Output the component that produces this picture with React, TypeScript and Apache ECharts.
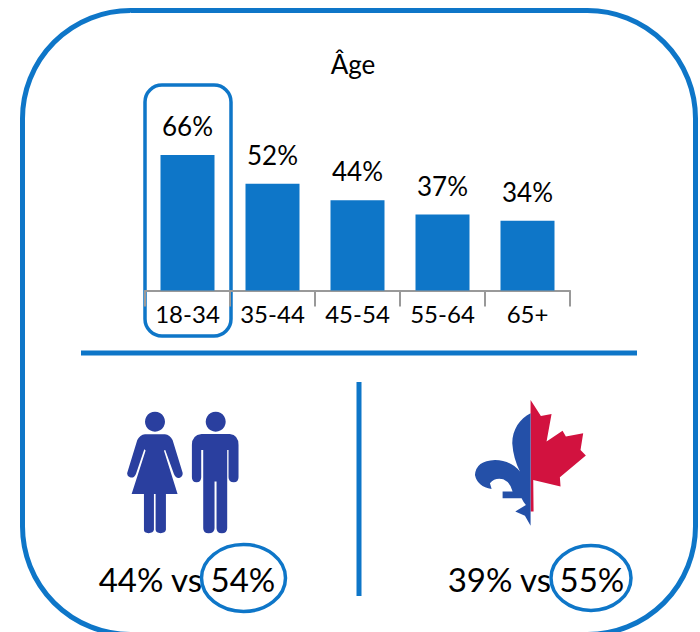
import React, { useEffect, useRef } from "react";
import * as echarts from "echarts";

const ageCategories = ["18-34", "35-44", "45-54", "55-64", "65+"];
const ageValues = [66, 52, 44, 37, 34];
const chartTitle = "Âge";
const genderText = "44% vs 54%";
const regionText = "39% vs 55%";

const BLUE = "#0e76c8";
const FONT = "Lato, 'Open Sans', sans-serif";

const womanPath = "M165 133 L225 133 Q240 135 248 150 L277 245 Q282 258 268 264 Q258 266 252 252 L226 180 L222 182 L263 312 L228 312 L228 420 Q226 430 212 430 Q198 430 197 420 L197 312 L192 312 L192 420 Q190 430 176 430 Q162 430 162 420 L162 312 L125 312 L167 182 L163 178 L138 252 Q132 266 120 262 Q108 258 113 245 L142 150 Q150 135 165 133 Z";
const manPath = "M335 132 L420 132 Q446 135 446 165 L446 262 Q446 277 432 277 Q416 277 416 262 L416 180 L412 180 L412 415 Q412 430 396 430 Q380 430 380 415 L380 275 L374 275 L374 415 Q374 430 356 430 Q340 430 340 415 L340 180 L334 180 L334 262 Q334 277 320 277 Q306 277 306 262 L306 165 Q306 135 335 132 Z";
const leafPath = "M272 30 L303 78 L335 72 L320 155 L368 122 L378 140 L430 130 L422 180 L438 197 L360 262 L362 290 L280 270 L281 365 L272 365 Z";
const fleurPath = "M272 70 C240 85 217 120 217 160 Q220 205 240 245 Q215 212 165 210 Q108 212 105 255 Q112 290 155 297 L150 280 Q165 262 190 268 Q212 278 218 305 L188 305 L188 325 L245 325 Q252 340 258 345 L226 365 L255 378 L272 408 Z";

echarts.graphic.registerShape("woman", echarts.graphic.extendPath(womanPath, {}));
echarts.graphic.registerShape("man", echarts.graphic.extendPath(manPath, {}));
echarts.graphic.registerShape("leaf", echarts.graphic.extendPath(leafPath, {}));
echarts.graphic.registerShape("fleur", echarts.graphic.extendPath(fleurPath, {}));

export default function App() {
  const ref = useRef<HTMLDivElement>(null);
  useEffect(() => {
    const chart = echarts.init(ref.current!, undefined, { renderer: "svg" });
    const ink = { scaleX: 1 / 3, scaleY: 1 / 3 };
    chart.setOption({
      animation: false,
      backgroundColor: "#ffffff",
      title: {
        text: chartTitle,
        left: 348,
        top: 46,
        textAlign: "center",
        textStyle: { fontFamily: FONT, fontSize: 26, fontWeight: "normal", color: "#000" },
      },
      grid: { left: 145, top: 85.2, width: 425, height: 205.3 },
      xAxis: {
        type: "category",
        data: ageCategories,
        axisLine: { lineStyle: { color: "#999999", width: 2 } },
        axisTick: { show: true, length: 16, lineStyle: { color: "#999999", width: 2 } },
        axisLabel: { fontFamily: FONT, fontSize: 24, color: "#000", margin: 11, interval: 0 },
      },
      yAxis: { type: "value", min: 0, max: 100, show: false, splitLine: { show: false } },
      series: [
        {
          type: "bar",
          data: ageValues,
          barWidth: 54,
          itemStyle: { color: BLUE },
          label: {
            show: true,
            position: "top",
            distance: 16,
            formatter: "{c}%",
            fontFamily: FONT,
            fontSize: 26,
            color: "#000",
          },
        },
      ],
      graphic: [
        { type: "rect", shape: { x: 22.5, y: 10.5, width: 673, height: 624, r: 108 }, style: { fill: "none", stroke: BLUE, lineWidth: 5 }, silent: true },
        { type: "rect", shape: { x: 145, y: 85, width: 86, height: 251, r: 17 }, style: { fill: "none", stroke: BLUE, lineWidth: 3.5 }, silent: true },
        { type: "line", shape: { x1: 81, y1: 353, x2: 637, y2: 353 }, style: { stroke: BLUE, lineWidth: 5 }, silent: true },
        { type: "line", shape: { x1: 359, y1: 382, x2: 359, y2: 596 }, style: { stroke: BLUE, lineWidth: 5 }, silent: true },
        { type: "group", x: 90, y: 390, silent: true, children: [
          { type: "woman", ...ink, style: { fill: "#2a3f9f" } },
          { type: "man", ...ink, style: { fill: "#2a3f9f" } },
          { type: "circle", shape: { cx: 65, cy: 31.7, r: 10 }, style: { fill: "#2a3f9f" } },
          { type: "circle", shape: { cx: 125.7, cy: 31.7, r: 10 }, style: { fill: "#2a3f9f" } },
        ] },
        { type: "group", x: 440, y: 390, silent: true, children: [
          { type: "leaf", ...ink, style: { fill: "#d2123f" } },
          { type: "fleur", ...ink, style: { fill: "#2450a8" } },
        ] },
        { type: "text", x: 187, y: 579, silent: true, style: { text: genderText, fontFamily: FONT, fontSize: 33, fill: "#000", textAlign: "center", textVerticalAlign: "middle" } },
        { type: "text", x: 536, y: 579, silent: true, style: { text: regionText, fontFamily: FONT, fontSize: 33, fill: "#000", textAlign: "center", textVerticalAlign: "middle" } },
        { type: "ellipse", shape: { cx: 243.5, cy: 578, rx: 42, ry: 33.5 }, style: { fill: "none", stroke: BLUE, lineWidth: 3.5 }, silent: true },
        { type: "ellipse", shape: { cx: 591, cy: 578, rx: 40, ry: 32.5 }, style: { fill: "none", stroke: BLUE, lineWidth: 3.5 }, silent: true },
      ],
    });
    return () => chart.dispose();
  }, []);
  return <div ref={ref} style={{ position: "fixed", left: 0, top: 0, width: 700, height: 632 }} />;
}
